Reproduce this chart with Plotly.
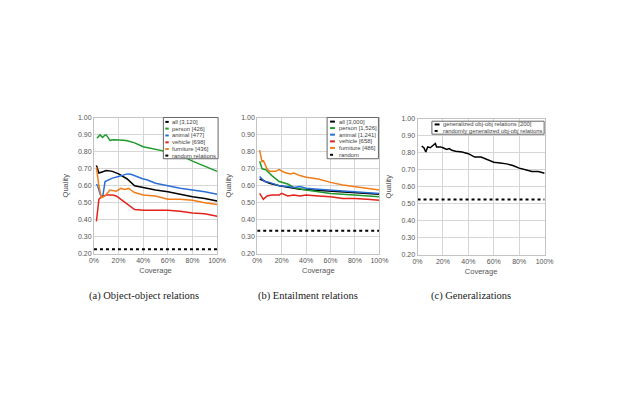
import plotly.graph_objects as go

W, H = 624, 400

# ---------------- data ----------------
# (a) Object-object relations
a_all_x = [2, 4, 6, 10, 15, 20, 27, 33, 40, 50, 60, 70, 80, 90, 100]
a_all_y = [0.72, 0.675, 0.68, 0.69, 0.685, 0.67, 0.64, 0.60, 0.59, 0.575, 0.565, 0.55, 0.535, 0.525, 0.51]
a_person_x = [2.4, 4, 5, 7, 9, 10, 13, 16, 20, 24, 27, 33, 40, 50, 60, 66, 73, 80, 90, 100]
a_person_y = [0.88, 0.89, 0.90, 0.885, 0.90, 0.90, 0.868, 0.872, 0.872, 0.868, 0.865, 0.853, 0.83, 0.815, 0.80, 0.785, 0.77, 0.745, 0.715, 0.685]
a_animal_x = [2, 3, 5, 7, 9, 12, 15, 20, 24, 27, 30, 33, 37, 40, 43, 50, 60, 70, 80, 90, 100]
a_animal_y = [0.61, 0.60, 0.55, 0.53, 0.625, 0.635, 0.645, 0.655, 0.665, 0.67, 0.668, 0.66, 0.645, 0.64, 0.635, 0.615, 0.60, 0.585, 0.575, 0.565, 0.55]
a_vehicle_x = [2, 3, 4, 6, 10, 15, 18, 20, 23, 25, 29, 31, 33, 40, 50, 60, 70, 80, 90, 100]
a_vehicle_y = [0.39, 0.47, 0.52, 0.535, 0.545, 0.545, 0.54, 0.53, 0.515, 0.50, 0.485, 0.47, 0.46, 0.455, 0.455, 0.455, 0.45, 0.44, 0.435, 0.42]
a_furniture_x = [2, 3, 4, 6, 9, 13, 16, 18, 22, 24, 26, 28, 30, 33, 40, 50, 60, 70, 80, 90, 100]
a_furniture_y = [0.71, 0.65, 0.60, 0.53, 0.54, 0.575, 0.57, 0.568, 0.585, 0.58, 0.58, 0.585, 0.575, 0.56, 0.545, 0.54, 0.52, 0.52, 0.515, 0.50, 0.49]
a_random_x = [0, 100]
a_random_y = [0.225, 0.225]

# (b) Entailment relations
b_all_x = [2, 5, 10, 18, 25, 35, 45, 55, 65, 75, 85, 100]
b_all_y = [0.64, 0.63, 0.615, 0.60, 0.59, 0.58, 0.575, 0.57, 0.565, 0.56, 0.555, 0.55]
b_person_x = [2, 4, 7, 12, 18, 25, 30, 40, 50, 60, 70, 80, 90, 100]
b_person_y = [0.745, 0.70, 0.695, 0.66, 0.625, 0.61, 0.59, 0.575, 0.565, 0.555, 0.55, 0.545, 0.54, 0.535]
b_animal_x = [2, 6, 10, 18, 25, 30, 35, 40, 50, 60, 70, 80, 90, 100]
b_animal_y = [0.655, 0.625, 0.62, 0.60, 0.595, 0.59, 0.595, 0.585, 0.58, 0.575, 0.57, 0.565, 0.56, 0.555]
b_vehicle_x = [2, 5, 8, 12, 18, 20, 25, 30, 35, 40, 50, 60, 70, 80, 90, 100]
b_vehicle_y = [0.555, 0.52, 0.54, 0.545, 0.545, 0.555, 0.54, 0.545, 0.54, 0.545, 0.54, 0.535, 0.525, 0.525, 0.52, 0.515]
b_furniture_x = [2, 4, 5, 8, 10, 15, 18, 22, 27, 30, 35, 40, 50, 60, 70, 80, 90, 100]
b_furniture_y = [0.81, 0.74, 0.75, 0.70, 0.685, 0.685, 0.695, 0.68, 0.67, 0.675, 0.66, 0.65, 0.64, 0.62, 0.605, 0.595, 0.585, 0.575]
b_random_x = [0, 100]
b_random_y = [0.335, 0.335]

# (c) Generalizations
c_gen_x = [3.3, 5, 6.5, 8, 10, 12, 14, 15, 18, 20, 23, 25, 27, 30, 35, 40, 45, 50, 55, 60, 65, 70, 75, 80, 85, 90, 95, 100]
c_gen_y = [0.84, 0.83, 0.805, 0.835, 0.83, 0.84, 0.855, 0.835, 0.835, 0.83, 0.82, 0.825, 0.815, 0.81, 0.805, 0.795, 0.775, 0.775, 0.76, 0.745, 0.74, 0.735, 0.725, 0.71, 0.70, 0.69, 0.69, 0.68]
c_random_x = [0, 100]
c_random_y = [0.525, 0.525]

a_names = ["all [3,120]", "person [426]", "animal [477]", "vehicle [698]", "furniture [436]", "random relations"]
b_names = ["all [3,000]", "person [1,526]", "animal [1,241]", "vehicle [658]", "furniture [486]", "random"]
c_names = ["generalized obj-obj relations [200]", "randomly generalized obj-obj relations"]
captions = ["(a) Object-object relations", "(b) Entailment relations", "(c) Generalizations"]

y_ticks = [0.2, 0.3, 0.4, 0.5, 0.6, 0.7, 0.8, 0.9, 1.0]
x_ticks = [0, 20, 40, 60, 80, 100]

colors = ["#000000", "#1f9a2e", "#2a6fd6", "#e2231a", "#f07d18", "#000000"]

# ---------------- figure ----------------
fig = go.Figure()

def add_series(xs, ys, names, cols, ax, ay, random_last=True):
    n = len(xs)
    for i in range(n):
        is_rand = random_last and i == n - 1
        fig.add_trace(go.Scatter(
            x=xs[i], y=ys[i], mode="lines", name=names[i],
            line=dict(color=cols[i], width=2.0 if is_rand else 1.5,
                      dash="dot" if is_rand else "solid"),
            xaxis=ax, yaxis=ay, showlegend=False))

add_series([a_all_x, a_person_x, a_animal_x, a_vehicle_x, a_furniture_x, a_random_x],
           [a_all_y, a_person_y, a_animal_y, a_vehicle_y, a_furniture_y, a_random_y],
           a_names, colors, "x", "y")
add_series([b_all_x, b_person_x, b_animal_x, b_vehicle_x, b_furniture_x, b_random_x],
           [b_all_y, b_person_y, b_animal_y, b_vehicle_y, b_furniture_y, b_random_y],
           b_names, colors, "x2", "y2")
add_series([c_gen_x, c_random_x], [c_gen_y, c_random_y], c_names, ["#000000", "#000000"], "x3", "y3")

def px(x):
    return x / W

def py(y):
    return 1 - y / H

tickfont = dict(family="Liberation Sans, Arial", size=7, color="#555")
titlefont = dict(family="Liberation Sans, Arial", size=7.5, color="#555")

def xaxis(dom, anchor):
    return dict(domain=dom, anchor=anchor, range=[0, 100], tickvals=x_ticks,
                ticktext=[f"{v}%" for v in x_ticks], showgrid=True, gridcolor="#d6d6d6",
                gridwidth=1, zeroline=False, showline=True, linecolor="#c4c4c4", mirror=True,
                tickfont=tickfont, ticks="", title=dict(text="Coverage", font=titlefont, standoff=4))

def yaxis(dom, anchor):
    return dict(domain=dom, anchor=anchor, range=[0.2, 1.0], tickvals=y_ticks,
                ticktext=[f"{v:.2f}" for v in y_ticks], showgrid=True, gridcolor="#d6d6d6",
                gridwidth=1, zeroline=False, showline=True, linecolor="#c4c4c4", mirror=True,
                tickfont=tickfont, ticks="", title=dict(text="Quality", font=titlefont, standoff=8))

xa = [px(91), px(217)]
xb = [px(258), px(383)]
xc = [px(422), px(552)]
yd = [py(254), py(116)]
ydc = [py(255), py(117)]

fig.update_layout(
    width=W, height=H, margin=dict(l=0, r=0, t=0, b=0),
    paper_bgcolor="white", plot_bgcolor="white", showlegend=False,
    xaxis=xaxis(xa, "y"), yaxis=yaxis(yd, "x"),
    xaxis2=xaxis(xb, "y2"), yaxis2=yaxis(yd, "x2"),
    xaxis3=xaxis(xc, "y3"), yaxis3=yaxis(ydc, "x3"),
)

# custom legends (layout decoration)
def legend(box, rows, sample_x, text_x, names, cols, dashes):
    x0, x1, y0, y1 = box
    fig.add_shape(type="rect", xref="paper", yref="paper",
                  x0=px(x0), x1=px(x1), y0=py(y1), y1=py(y0),
                  line=dict(color="#666", width=1), fillcolor="white", layer="above")
    for r, nm, c, d in zip(rows, names, cols, dashes):
        fig.add_shape(type="line", xref="paper", yref="paper",
                      x0=px(sample_x[0]), x1=px(sample_x[1]), y0=py(r), y1=py(r),
                      line=dict(color=c, width=2.0, dash=d), layer="above")
        fig.add_annotation(x=px(text_x), y=py(r), xref="paper", yref="paper",
                           text=nm, showarrow=False, xanchor="left", yanchor="middle",
                           font=dict(family="Liberation Sans, Arial", size=5.9, color="#444"))

legend((162, 218, 115.5, 157.5), [120, 126.8, 133.8, 140.8, 147.6, 154.3], (164, 167.5), 168.8,
       a_names, colors, ["solid"] * 5 + ["dot"])
legend((329.5, 382, 115.5, 157.5), [119.7, 126.3, 133, 139.8, 146.5, 153.5], (332.5, 337.5), 340,
       b_names, colors, ["solid"] * 5 + ["dot"])
legend((436.7, 551.5, 119.3, 132.5), [122.6, 129.2], (439.5, 444.5), 446.5,
       c_names, ["#000000", "#000000"], ["solid", "dot"])

for cx, cap in zip([142, 310, 477], captions):
    fig.add_annotation(x=px(cx), y=py(297), xref="paper", yref="paper", text=cap,
                       showarrow=False, xanchor="center", yanchor="middle",
                       font=dict(family="Liberation Serif, Times New Roman", size=10.5, color="#222"))

fig.write_html("out.html")
